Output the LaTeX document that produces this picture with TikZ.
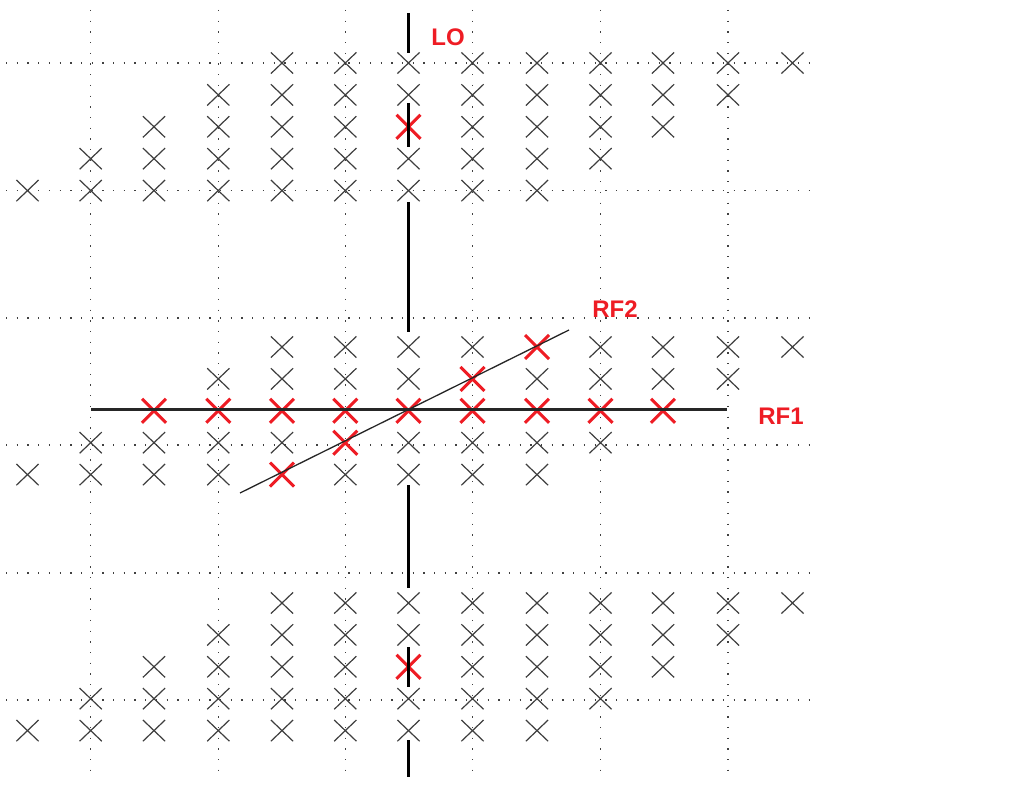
\documentclass[tikz,border=0pt]{standalone}
\usepackage{fontspec}
\setmainfont{Liberation Sans}
\usetikzlibrary{shapes.misc}
\definecolor{xred}{RGB}{238,28,36}
\definecolor{xgray}{RGB}{62,62,62}
\makeatletter
\@namedef{isred@T-2-6}{}
\@namedef{isred@M-0-8}{}
\@namedef{isred@M-1-7}{}
\@namedef{isred@M-2-2}{}
\@namedef{isred@M-2-3}{}
\@namedef{isred@M-2-4}{}
\@namedef{isred@M-2-5}{}
\@namedef{isred@M-2-6}{}
\@namedef{isred@M-2-7}{}
\@namedef{isred@M-2-8}{}
\@namedef{isred@M-2-9}{}
\@namedef{isred@M-2-10}{}
\@namedef{isred@M-3-5}{}
\@namedef{isred@M-4-4}{}
\@namedef{isred@B-2-6}{}
\makeatother
\begin{document}
\begin{tikzpicture}[x=1pt,y=-1pt,
  xmark/.style={cross out,draw=xgray,line width=1.2pt,minimum width=21pt,minimum height=20pt,inner sep=0pt},
  redmark/.style={cross out,draw=xred,line width=3pt,minimum width=21pt,minimum height=21pt,inner sep=0pt},
  griddots/.style={draw=black!75,line width=1.3pt,dash pattern=on 1.3pt off 9.4pt},
  loline/.style={draw=black,line width=2.2pt},
  rfoneline/.style={draw=black!85,line width=2.6pt},
  rftwoline/.style={draw=black!85,line width=1.3pt},
  redlabel/.style={text=xred,font=\bfseries\fontsize{24}{28}\selectfont,inner sep=0pt}]
\useasboundingbox (0,0) rectangle (1013,786);
% dotted grid
\foreach \gx in {90.7,218.3,345.3,472.5,600.5,728}
  \draw[griddots] (\gx,10) -- (\gx,776);
\foreach \gy in {63,190.5,318,445,573,700}
  \draw[griddots] (6,\gy) -- (816,\gy);
% crosses
\foreach \b/\yb in {T/63,M/347,B/603}
 \foreach \r in {0,...,4}
  \foreach \c in {0,...,8} {
   \pgfmathtruncatemacro\cc{\c+4-\r}
   \pgfmathsetmacro\xx{{27.5,90.7,154,218.3,282,345.3,408.5,472.5,537,600.5,663,728,792.5}[\cc]}
   \ifcsname isred@\b-\r-\cc\endcsname
     \node[redmark] (\b-\r-\cc) at (\xx,\yb+31.9*\r) {};
   \else
     \node[xmark] (\b-\r-\cc) at (\xx,\yb+31.9*\r) {};
   \fi
  }
% LO line segments
\coordinate (lo1a) at (408.5,13);  \coordinate (lo1b) at (408.5,53);
\coordinate (lo2a) at (408.5,103); \coordinate (lo2b) at (408.5,147);
\coordinate (lo3a) at (408.5,202); \coordinate (lo3b) at (408.5,332);
\coordinate (lo4a) at (408.5,485); \coordinate (lo4b) at (408.5,588);
\coordinate (lo5a) at (408.5,647); \coordinate (lo5b) at (408.5,687);
\coordinate (lo6a) at (408.5,740); \coordinate (lo6b) at (408.5,777);
\foreach \s in {1,...,6}
  \draw[loline] (lo\s a) -- (lo\s b);
% RF1 and RF2 lines
\coordinate (rf1a) at (91,409.5);  \coordinate (rf1b) at (727,409.5);
\coordinate (rf2a) at (240,493);   \coordinate (rf2b) at (569,330);
\draw[rfoneline] (rf1a) -- (rf1b);
\draw[rftwoline] (rf2a) -- (rf2b);
% labels
\node[redlabel] (lolab) at (448,37) {LO};
\node[redlabel] (rf2lab) at (615,309) {RF2};
\node[redlabel] (rf1lab) at (781,416) {RF1};
\end{tikzpicture}
\end{document}
